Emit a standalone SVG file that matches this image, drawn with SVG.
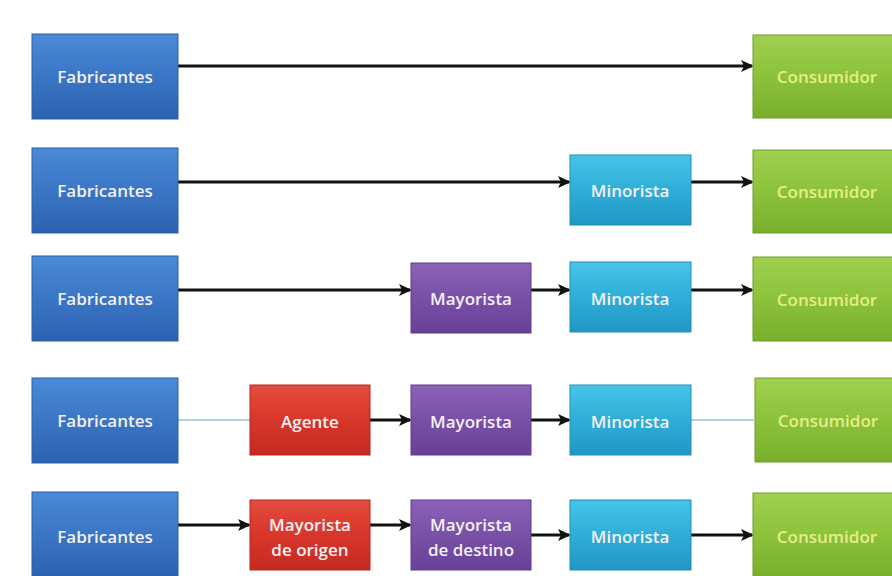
<svg xmlns="http://www.w3.org/2000/svg" width="892" height="576" viewBox="0 0 892 576">
<defs>
<linearGradient id="gBlue" x1="0" y1="0" x2="0" y2="1"><stop offset="0" stop-color="#4a8ad6"/><stop offset="0.5" stop-color="#3a76c6"/><stop offset="1" stop-color="#2c62b0"/></linearGradient>
<linearGradient id="gGreen" x1="0" y1="0" x2="0" y2="1"><stop offset="0" stop-color="#a0d050"/><stop offset="0.5" stop-color="#8cc23a"/><stop offset="1" stop-color="#78ae2c"/></linearGradient>
<linearGradient id="gCyan" x1="0" y1="0" x2="0" y2="1"><stop offset="0" stop-color="#48c4e8"/><stop offset="0.5" stop-color="#2eaed8"/><stop offset="1" stop-color="#2296c4"/></linearGradient>
<linearGradient id="gPurple" x1="0" y1="0" x2="0" y2="1"><stop offset="0" stop-color="#8a62b8"/><stop offset="0.5" stop-color="#7850a8"/><stop offset="1" stop-color="#684098"/></linearGradient>
<linearGradient id="gRed" x1="0" y1="0" x2="0" y2="1"><stop offset="0" stop-color="#e44c3e"/><stop offset="0.5" stop-color="#d8362a"/><stop offset="1" stop-color="#c42a22"/></linearGradient>
<marker id="arr" markerWidth="13" markerHeight="12" refX="11" refY="6" orient="auto" markerUnits="userSpaceOnUse"><path d="M0,0 L13,6 L0,12 L3,6 Z" fill="#111"/></marker>
</defs>
<style>
.blue{fill:url(#gBlue);stroke:#2a5ea8;stroke-width:1}
.green{fill:url(#gGreen);stroke:#6f9e2a;stroke-width:1}
.cyan{fill:url(#gCyan);stroke:#1f8fba;stroke-width:1}
.purple{fill:url(#gPurple);stroke:#5e3a8c;stroke-width:1}
.red{fill:url(#gRed);stroke:#b02820;stroke-width:1}
text{font-family:"Open Sans","Liberation Sans",sans-serif;font-size:17px;font-weight:600;fill:#f4f0f4;text-anchor:middle;dominant-baseline:central}
text.y{fill:#e6ee88}
.c{stroke:#111;stroke-width:3;fill:none;marker-end:url(#arr)}
.f{stroke:#b4d0e4;stroke-width:2;fill:none}
</style>
<rect width="892" height="576" fill="#ffffff"/>
<g id="connectors">
<line class="c" x1="178" y1="66" x2="752" y2="66"/>
<line class="c" x1="178" y1="182" x2="569" y2="182"/>
<line class="c" x1="691" y1="182" x2="752" y2="182"/>
<line class="c" x1="178" y1="290" x2="410" y2="290"/>
<line class="c" x1="531" y1="290" x2="569" y2="290"/>
<line class="c" x1="691" y1="290" x2="752" y2="290"/>
<line class="f" x1="178" y1="420" x2="250" y2="420"/>
<line class="c" x1="370" y1="420" x2="410" y2="420"/>
<line class="c" x1="531" y1="420" x2="569" y2="420"/>
<line class="f" x1="691" y1="420" x2="754" y2="420"/>
<line class="c" x1="178" y1="525" x2="249" y2="525"/>
<line class="c" x1="370" y1="525" x2="410" y2="525"/>
<line class="c" x1="531" y1="535" x2="569" y2="535"/>
<line class="c" x1="691" y1="535" x2="752" y2="535"/>
</g>
<g id="r1-fab"><rect class="blue" x="32" y="34" width="146" height="85"/><text x="105" y="76">Fabricantes</text></g>
<g id="r1-con"><rect class="green" x="753" y="35" width="148" height="83"/><text class="y" x="827" y="76">Consumidor</text></g>
<g id="r2-fab"><rect class="blue" x="32" y="148" width="146" height="85"/><text x="105" y="190">Fabricantes</text></g>
<g id="r2-min"><rect class="cyan" x="570" y="155" width="121" height="70"/><text x="630" y="190">Minorista</text></g>
<g id="r2-con"><rect class="green" x="753" y="150" width="148" height="83"/><text class="y" x="827" y="191">Consumidor</text></g>
<g id="r3-fab"><rect class="blue" x="32" y="256" width="146" height="85"/><text x="105" y="298">Fabricantes</text></g>
<g id="r3-may"><rect class="purple" x="411" y="263" width="120" height="70"/><text x="471" y="298">Mayorista</text></g>
<g id="r3-min"><rect class="cyan" x="570" y="262" width="121" height="70"/><text x="630" y="298">Minorista</text></g>
<g id="r3-con"><rect class="green" x="753" y="257" width="148" height="84"/><text class="y" x="827" y="299">Consumidor</text></g>
<g id="r4-fab"><rect class="blue" x="32" y="378" width="146" height="85"/><text x="105" y="420">Fabricantes</text></g>
<g id="r4-age"><rect class="red" x="250" y="385" width="120" height="70"/><text x="310" y="421">Agente</text></g>
<g id="r4-may"><rect class="purple" x="411" y="385" width="120" height="70"/><text x="471" y="421">Mayorista</text></g>
<g id="r4-min"><rect class="cyan" x="570" y="385" width="121" height="70"/><text x="630" y="421">Minorista</text></g>
<g id="r4-con"><rect class="green" x="755" y="378" width="146" height="84"/><text class="y" x="828" y="420">Consumidor</text></g>
<g id="r5-fab"><rect class="blue" x="32" y="492" width="146" height="85"/><text x="105" y="536">Fabricantes</text></g>
<g id="r5-mor"><rect class="red" x="250" y="500" width="120" height="70"/><text x="310" y="524">Mayorista</text><text x="310" y="549">de origen</text></g>
<g id="r5-mde"><rect class="purple" x="411" y="500" width="120" height="70"/><text x="471" y="524">Mayorista</text><text x="471" y="549">de destino</text></g>
<g id="r5-min"><rect class="cyan" x="570" y="500" width="121" height="70"/><text x="630" y="536">Minorista</text></g>
<g id="r5-con"><rect class="green" x="753" y="493" width="148" height="84"/><text class="y" x="827" y="536">Consumidor</text></g>
</svg>
